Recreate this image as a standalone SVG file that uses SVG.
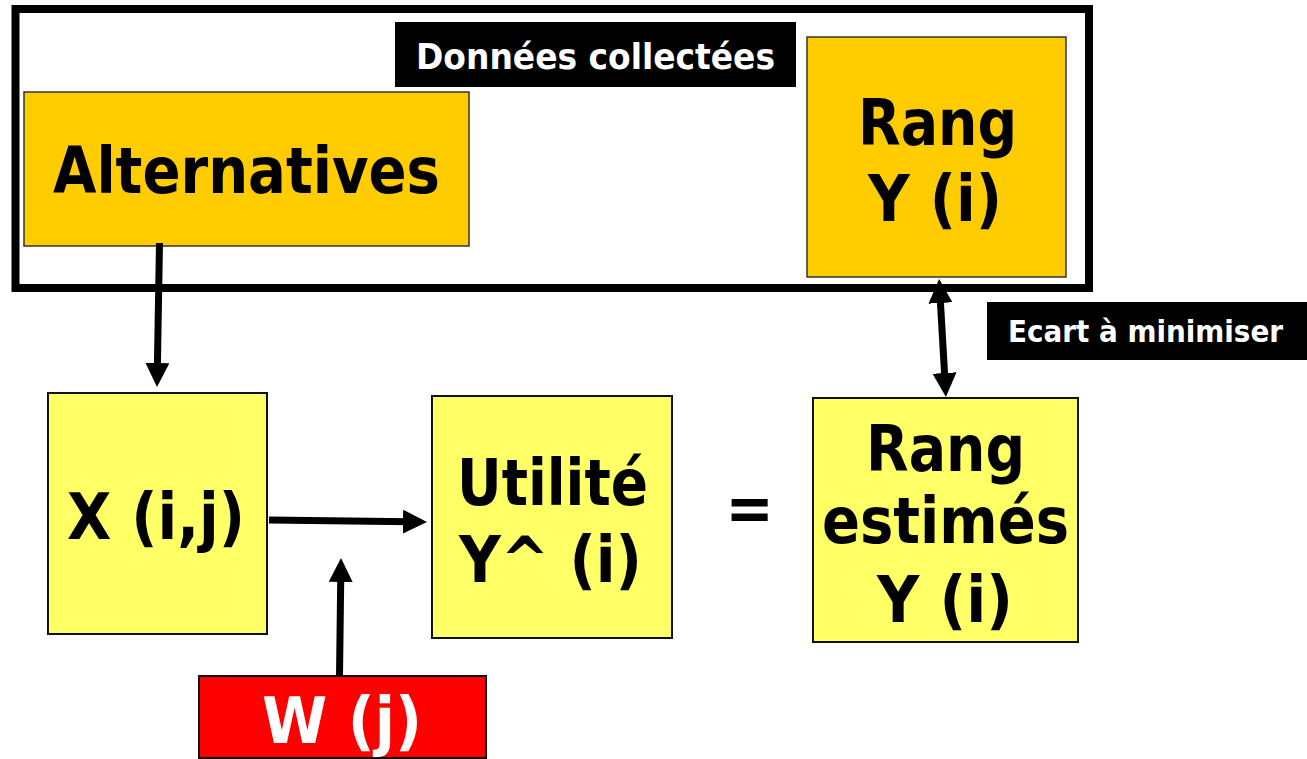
<svg xmlns="http://www.w3.org/2000/svg" width="1307" height="759" viewBox="0 0 1307 759">
  <style>
    .txt { font-family: "DejaVu Sans Condensed", "DejaVu Sans", Verdana, sans-serif; font-weight: bold; fill: #000; }
    .big { font-size: 64px; }
    .lbl { fill: #fff; }
    .gold { fill: #FFCC00; stroke: #333; stroke-width: 1.5; }
    .pale { fill: #FFFF66; stroke: #111; stroke-width: 2; }
    .red { fill: #FF0000; stroke: #111; stroke-width: 2; }
    .tag { fill: #000; }
    .conn { stroke: #000; stroke-width: 7; fill: none; }
  </style>
  <defs>
    <marker id="head" viewBox="0 0 24 24" refX="8" refY="12" markerWidth="24" markerHeight="24" markerUnits="userSpaceOnUse" orient="auto-start-reverse">
      <path d="M0,0 L24,12 L0,24 z" fill="#000"/>
    </marker>
  </defs>

  <!-- frame around the collected data -->
  <g id="collected-frame">
    <rect x="15.5" y="9" width="1073.5" height="279" fill="#fff" stroke="#000" stroke-width="8"/>
  </g>

  <g id="donnees-label">
    <rect class="tag" x="395" y="22" width="401" height="65"/>
    <text class="txt lbl" x="416" y="69" font-size="36" textLength="359" lengthAdjust="spacingAndGlyphs">Données collectées</text>
  </g>

  <g id="alternatives">
    <rect class="gold" x="24" y="92" width="445" height="154"/>
    <text class="txt big" x="53" y="193" textLength="387" lengthAdjust="spacingAndGlyphs">Alternatives</text>
  </g>

  <g id="rang">
    <rect class="gold" x="807" y="37" width="259" height="240"/>
    <text class="txt big" x="858" y="145" textLength="159" lengthAdjust="spacingAndGlyphs">Rang</text>
    <text class="txt big" x="868" y="221" textLength="134" lengthAdjust="spacingAndGlyphs">Y (i)</text>
  </g>

  <g id="ecart-label">
    <rect class="tag" x="987" y="302" width="320" height="58"/>
    <text class="txt lbl" x="1008" y="342" font-size="30" textLength="275" lengthAdjust="spacingAndGlyphs">Ecart à minimiser</text>
  </g>

  <g id="x-ij">
    <rect class="pale" x="48" y="393" width="219" height="241"/>
    <text class="txt big" x="67" y="539" textLength="178" lengthAdjust="spacingAndGlyphs">X (i,j)</text>
  </g>

  <g id="utilite">
    <rect class="pale" x="432" y="396" width="240" height="242"/>
    <text class="txt big" x="457" y="505" textLength="191" lengthAdjust="spacingAndGlyphs">Utilité</text>
    <text class="txt big" x="459" y="582" textLength="183" lengthAdjust="spacingAndGlyphs">Y^ (i)</text>
  </g>

  <g id="equals">
    <text class="txt big" x="749.5" y="530" text-anchor="middle">=</text>
  </g>

  <g id="rang-estimes">
    <rect class="pale" x="813" y="398" width="265" height="244"/>
    <text class="txt big" x="866" y="471" textLength="159" lengthAdjust="spacingAndGlyphs">Rang</text>
    <text class="txt big" x="822" y="543" textLength="247" lengthAdjust="spacingAndGlyphs">estimés</text>
    <text class="txt big" x="877" y="622" textLength="136" lengthAdjust="spacingAndGlyphs">Y (i)</text>
  </g>

  <g id="w-j">
    <rect class="red" x="199" y="676" width="287" height="82"/>
    <text class="txt big lbl" x="262" y="743" textLength="160" lengthAdjust="spacingAndGlyphs">W (j)</text>
  </g>

  <g id="connectors">
    <line class="conn" x1="159.5" y1="243" x2="157.3" y2="371" marker-end="url(#head)"/>
    <line class="conn" x1="269" y1="520" x2="411" y2="521.8" marker-end="url(#head)"/>
    <line class="conn" x1="339.5" y1="676" x2="340.8" y2="574" marker-end="url(#head)"/>
    <line class="conn" x1="940" y1="295" x2="945" y2="381" marker-start="url(#head)" marker-end="url(#head)"/>
  </g>
</svg>
